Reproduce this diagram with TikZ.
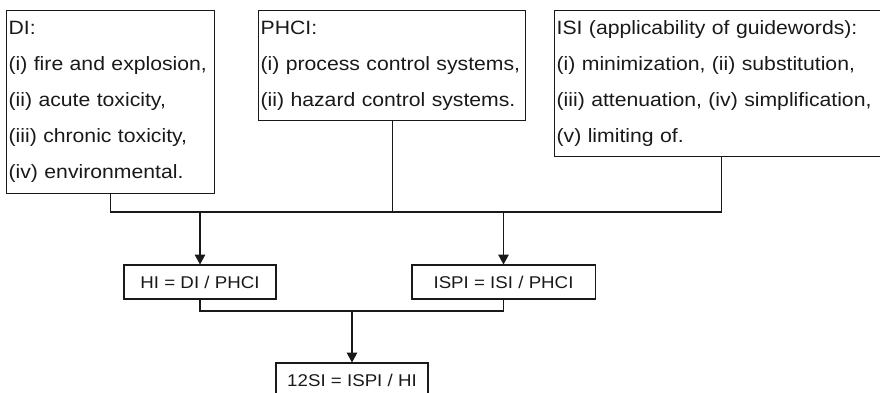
\documentclass[tikz,border=0pt]{standalone}
\usepackage{fontspec}
\setmainfont[FakeStretch=1.1]{Liberation Sans}
\usetikzlibrary{arrows.meta, positioning}
\hyphenpenalty=10000

\tikzset{
  listbox/.style={draw, anchor=north west, align=left, inner xsep=1.5pt, inner ysep=0pt,
    font=\fontsize{13.7}{25.6}\selectfont},
  formbox/.style={draw, minimum height=0.85cm, inner sep=0pt,
    font=\fontsize{12.1}{14}\selectfont},
  flow/.style={-{Triangle[length=7pt, width=7.5pt]}},
}

\begin{document}
\begin{tikzpicture}[x=0.025cm, y=-0.025cm, line width=0.75pt, color=black!90]
  \useasboundingbox (0,0) rectangle (880,393);
  % index boxes
  \node[listbox, text width=5.09cm, minimum height=4.575cm] (di) at (6,10)
    {DI:\\(i) fire and explosion,\\(ii) acute toxicity,\\(iii) chronic toxicity,\\(iv) environmental.};
  \node[listbox, text width=6.57cm, minimum height=2.75cm] (phci) at (258,10)
    {PHCI:\\(i) process control systems,\\(ii) hazard control systems.};
  \node[listbox, text width=8.24cm, minimum height=3.65cm] (isi) at (554,10)
    {ISI (applicability of guidewords):\\(i) minimization, (ii) substitution,\\(iii) attenuation, (iv) simplification,\\(v) limiting of.};
  % ratios
  \node[formbox, minimum width=3.8cm] (hi) at (200,282) {HI = DI / PHCI};
  \node[formbox, minimum width=4.575cm] (ispi) at (503.5,282) {ISPI = ISI / PHCI};
  \node[formbox, minimum width=3.8cm] (iisi) at (352,380) {12SI = ISPI / HI};
  % connectors
  \coordinate (topjoin) at (phci.south |- 0,212);
  \coordinate (lowjoin) at (iisi.north |- 0,311);
  \draw (di.south) |- (topjoin) -| (isi.south);
  \draw (phci.south) -- (topjoin);
  \draw[flow] (hi.north |- topjoin) -- (hi.north);
  \draw[flow] (ispi.north |- topjoin) -- (ispi.north);
  \draw (hi.south) |- (lowjoin) -| (ispi.south);
  \draw[flow] (lowjoin) -- (iisi.north);
\end{tikzpicture}
\end{document}
